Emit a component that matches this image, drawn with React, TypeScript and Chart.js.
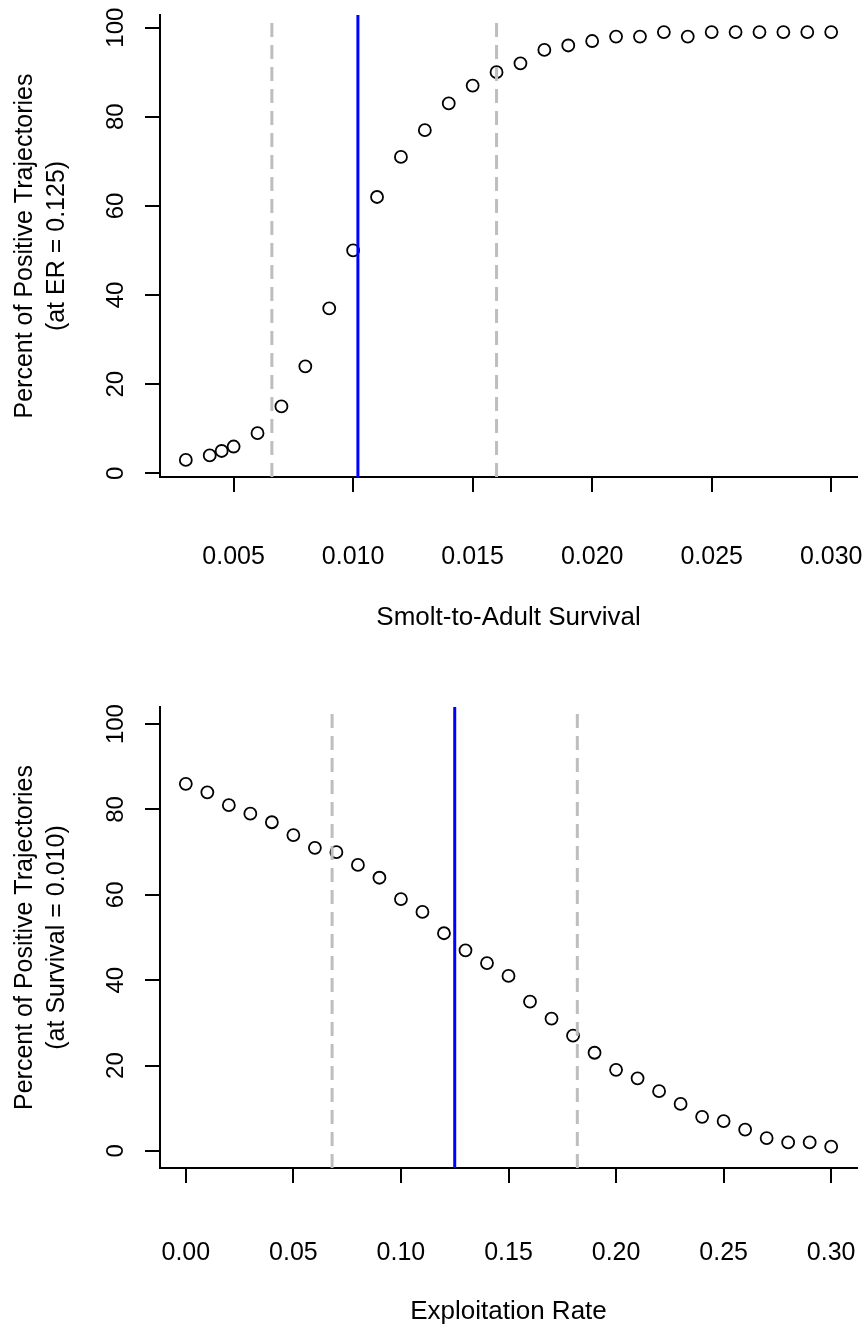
import React, { useEffect, useRef } from 'react';
import { Chart, registerables } from 'chart.js';

Chart.register(...registerables);

const FONT = '"Liberation Sans", Arial, Helvetica, sans-serif';

// ---------- Top panel: survival ----------
const SURVIVAL = [
  0.003, 0.004, 0.0045, 0.005, 0.006, 0.007, 0.008, 0.009, 0.010, 0.011,
  0.012, 0.013, 0.014, 0.015, 0.016, 0.017, 0.018, 0.019, 0.020, 0.021,
  0.022, 0.023, 0.024, 0.025, 0.026, 0.027, 0.028, 0.029, 0.030,
];
const PCT_BY_SURVIVAL = [
  3, 4, 5, 6, 9, 15, 24, 37, 50, 62,
  71, 77, 83, 87, 90, 92, 95, 96, 97, 98,
  98, 99, 98, 99, 99, 99, 99, 99, 99,
];
const SURVIVAL_TICKS = [0.005, 0.01, 0.015, 0.02, 0.025, 0.03];
const SURVIVAL_TICK_LABELS = ['0.005', '0.010', '0.015', '0.020', '0.025', '0.030'];
const SURVIVAL_X_RANGE = [0.00192, 0.03108];
const SURVIVAL_Y_RANGE = [-0.84, 102.84];
const SURVIVAL_DASHED = [0.0066, 0.016];
const SURVIVAL_SOLID = [0.0102];

// ---------- Bottom panel: exploitation rate ----------
const ER = [
  0.00, 0.01, 0.02, 0.03, 0.04, 0.05, 0.06, 0.07, 0.08, 0.09,
  0.10, 0.11, 0.12, 0.13, 0.14, 0.15, 0.16, 0.17, 0.18, 0.19,
  0.20, 0.21, 0.22, 0.23, 0.24, 0.25, 0.26, 0.27, 0.28, 0.29, 0.30,
];
const PCT_BY_ER = [
  86, 84, 81, 79, 77, 74, 71, 70, 67, 64,
  59, 56, 51, 47, 44, 41, 35, 31, 27, 23,
  19, 17, 14, 11, 8, 7, 5, 3, 2, 2, 1,
];
const ER_TICKS = [0, 0.05, 0.1, 0.15, 0.2, 0.25, 0.3];
const ER_TICK_LABELS = ['0.00', '0.05', '0.10', '0.15', '0.20', '0.25', '0.30'];
const ER_X_RANGE = [-0.012, 0.312];
const ER_Y_RANGE = [-4, 104];
const ER_DASHED = [0.068, 0.182];
const ER_SOLID = [0.125];

const Y_TICKS = [0, 20, 40, 60, 80, 100];
const Y_TICK_LABELS = ['0', '20', '40', '60', '80', '100'];

type PanelProps = {
  width: number;
  height: number;
  xs: number[];
  ys: number[];
  xRange: number[];
  yRange: number[];
  xTicks: number[];
  xLabels: string[];
  dashed: number[];
  solid: number[];
  xTitle: string;
  yTitle: string[];
  padTop: number;
  xAxisH: number;
  xTickPad: number;
  xTitlePad: number;
};

function vline(v: number, yRange: number[], color: string, dash: number[]) {
  return {
    type: 'scatter' as const,
    data: [
      { x: v, y: yRange[0] },
      { x: v, y: yRange[1] },
    ],
    showLine: true,
    borderColor: color,
    borderWidth: 3,
    borderDash: dash,
    pointRadius: 0,
    pointHoverRadius: 0,
    fill: false,
  };
}

function Panel(p: PanelProps) {
  const ref = useRef<HTMLCanvasElement | null>(null);

  useEffect(() => {
    if (!ref.current) return;
    const points = p.xs.map((x, i) => ({ x, y: p.ys[i] }));
    const datasets: any[] = [
      ...p.dashed.map((v) => vline(v, p.yRange, '#bebebe', [14, 8])),
      ...p.solid.map((v) => vline(v, p.yRange, '#0000ff', [])),
      {
        type: 'scatter',
        data: points,
        showLine: false,
        pointStyle: 'circle',
        pointRadius: 6,
        pointBorderWidth: 1.8,
        pointBorderColor: '#000',
        pointBackgroundColor: 'rgba(0,0,0,0)',
      },
    ];

    const chart = new Chart(ref.current, {
      type: 'scatter',
      data: { datasets },
      options: {
        animation: false,
        responsive: false,
        events: [],
        layout: { padding: { top: p.padTop, right: 11, left: 0, bottom: 0 } },
        plugins: {
          legend: { display: false },
          tooltip: { enabled: false },
        },
        scales: {
          x: {
            type: 'linear',
            min: p.xRange[0],
            max: p.xRange[1],
            grid: {
              display: true,
              drawOnChartArea: false,
              drawTicks: true,
              tickLength: 15,
              color: '#000',
              lineWidth: 2,
            },
            border: { display: true, color: '#000', width: 2 },
            ticks: {
              autoSkip: false,
              minRotation: 0,
              maxRotation: 0,
              padding: p.xTickPad,
              color: '#000',
              font: { family: FONT, size: 25 },
              callback: (_v: any, i: number) => p.xLabels[i],
            },
            title: {
              display: true,
              text: p.xTitle,
              color: '#000',
              font: { family: FONT, size: 26 },
              padding: { top: 0, bottom: p.xTitlePad },
            },
            afterBuildTicks: (s: any) => {
              s.ticks = p.xTicks.map((v) => ({ value: v }));
            },
            afterFit: (s: any) => {
              s.height = p.xAxisH;
              s.paddingLeft = 0;
              s.paddingRight = 0;
            },
          },
          y: {
            type: 'linear',
            min: p.yRange[0],
            max: p.yRange[1],
            grid: {
              display: true,
              drawOnChartArea: false,
              drawTicks: true,
              tickLength: 15,
              color: '#000',
              lineWidth: 2,
            },
            border: { display: true, color: '#000', width: 2 },
            ticks: {
              autoSkip: false,
              minRotation: 90,
              maxRotation: 90,
              crossAlign: 'center',
              padding: 9,
              color: '#000',
              font: { family: FONT, size: 24 },
              callback: (_v: any, i: number) => Y_TICK_LABELS[i],
            },
            title: {
              display: true,
              text: p.yTitle,
              color: '#000',
              font: { family: FONT, size: 25, lineHeight: '32px' },
              padding: { top: 9, bottom: 0 },
            },
            afterBuildTicks: (s: any) => {
              s.ticks = Y_TICKS.map((v) => ({ value: v }));
            },
            afterFit: (s: any) => {
              s.width = 160;
              s.paddingTop = 0;
              s.paddingBottom = 0;
            },
          },
        },
      } as any,
    });
    return () => chart.destroy();
  }, []);

  return (
    <canvas
      ref={ref}
      width={p.width}
      height={p.height}
      style={{ display: 'block', width: p.width, height: p.height }}
    />
  );
}

export default function App() {
  return (
    <div
      style={{
        position: 'absolute',
        left: 0,
        top: 0,
        width: 868,
        height: 1333,
        background: '#ffffff',
      }}
    >
      <Panel
        width={868}
        height={660}
        xs={SURVIVAL}
        ys={PCT_BY_SURVIVAL}
        xRange={SURVIVAL_X_RANGE}
        yRange={SURVIVAL_Y_RANGE}
        xTicks={SURVIVAL_TICKS}
        xLabels={SURVIVAL_TICK_LABELS}
        dashed={SURVIVAL_DASHED}
        solid={SURVIVAL_SOLID}
        xTitle="Smolt-to-Adult Survival"
        yTitle={['Percent of Positive Trajectories', '(at ER = 0.125)']}
        padTop={15}
        xAxisH={183}
        xTickPad={50}
        xTitlePad={27}
      />
      <Panel
        width={868}
        height={673}
        xs={ER}
        ys={PCT_BY_ER}
        xRange={ER_X_RANGE}
        yRange={ER_Y_RANGE}
        xTicks={ER_TICKS}
        xLabels={ER_TICK_LABELS}
        dashed={ER_DASHED}
        solid={ER_SOLID}
        xTitle="Exploitation Rate"
        yTitle={['Percent of Positive Trajectories', '(at Survival = 0.010)']}
        padTop={47}
        xAxisH={165}
        xTickPad={55}
        xTitlePad={6}
      />
    </div>
  );
}
